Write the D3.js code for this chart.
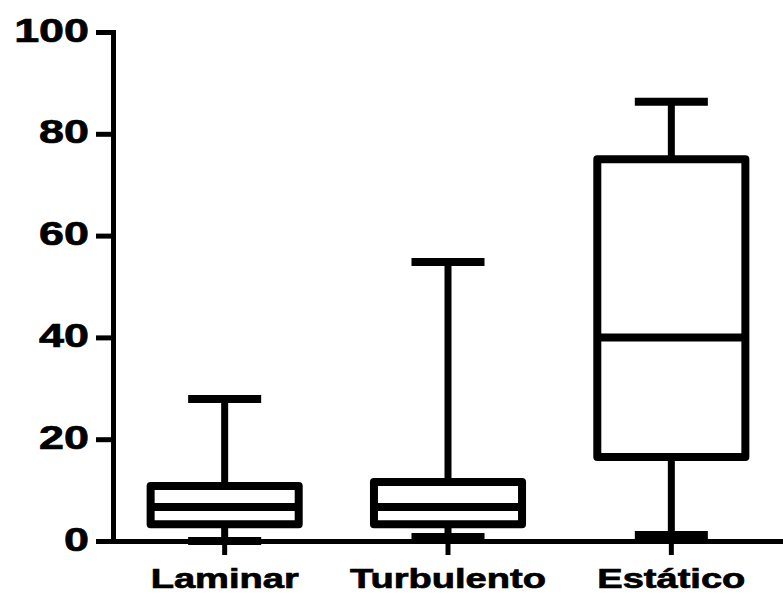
<!DOCTYPE html>
<html>
<head>
<meta charset="utf-8">
<script src="https://cdn.jsdelivr.net/npm/d3@7"></script>
<style>
  body { margin: 0; background: #fff; }
  svg text { font-family: "Liberation Sans", Arial, sans-serif; font-weight: bold; fill: #000; stroke: #000; stroke-width: 0.7px; }
</style>
</head>
<body>
<div id="chart"></div>
<script>
// data
let categories = ["Laminar", "Turbulento", "Estático"];
let mins    = [0, 0.8, 1.2];
let q1s     = [3.3, 3.3, 16.5];
let medians = [6.7, 6.7, 40.0];
let q3s     = [10.8, 11.6, 75.0];
let maxs    = [27.9, 54.8, 86.3];
let yTicks  = [0, 20, 40, 60, 80, 100];

let width = 783;
let height = 596;
let stretch = 1.36; // labels are drawn wide in the original

let svg = d3.select("#chart")
  .append("svg")
  .attr("width", width)
  .attr("height", height);

let x = d3.scaleBand()
  .domain(categories)
  .range([113, 783])
  .padding(0);

let y = d3.scaleLinear()
  .domain([0, 100])
  .range([541, 32]);

let boxes = categories.map((c, i) => ({
  cat: c, min: mins[i], q1: q1s[i], med: medians[i], q3: q3s[i], max: maxs[i]
}));

let boxW = x.bandwidth() * 0.663;
let capW = x.bandwidth() * 0.327;

let g = svg.append("g").attr("class", "boxes");

let b = g.selectAll("g")
  .data(boxes)
  .enter()
  .append("g")
  .attr("transform", d => `translate(${x(d.cat) + x.bandwidth() / 2},0)`);

// whisker stems
b.append("line")
  .attr("x1", 0).attr("x2", 0)
  .attr("y1", d => y(d.min)).attr("y2", d => y(d.max))
  .attr("stroke", "#000").attr("stroke-width", 7);

// caps
["min", "max"].forEach(k => {
  b.append("line")
    .attr("x1", -capW / 2).attr("x2", capW / 2)
    .attr("y1", d => y(d[k])).attr("y2", d => y(d[k]))
    .attr("stroke", "#000").attr("stroke-width", 8);
});

// box
b.append("rect")
  .attr("x", -boxW / 2)
  .attr("width", boxW)
  .attr("y", d => y(d.q3))
  .attr("height", d => y(d.q1) - y(d.q3))
  .attr("fill", "#fff")
  .attr("stroke", "#000")
  .attr("stroke-width", 8)
  .attr("stroke-linejoin", "round");

// median
b.append("line")
  .attr("x1", -boxW / 2).attr("x2", boxW / 2)
  .attr("y1", d => y(d.med)).attr("y2", d => y(d.med))
  .attr("stroke", "#000").attr("stroke-width", 8);

// y axis
let yAxis = svg.append("g")
  .attr("transform", "translate(113,0)")
  .call(d3.axisLeft(y).tickValues(yTicks).tickSize(17).tickSizeOuter(0));

yAxis.select(".domain")
  .attr("stroke", "#000").attr("stroke-width", 5).attr("stroke-linecap", "square");
yAxis.selectAll(".tick line")
  .attr("stroke", "#000").attr("stroke-width", 5);
yAxis.selectAll(".tick text")
  .attr("x", null).attr("dy", null)
  .attr("y", 9)
  .attr("text-anchor", "end")
  .attr("transform", `translate(-24,0) scale(${stretch},1)`)
  .style("font-size", "33px");

// x axis
let xAxis = svg.append("g")
  .attr("transform", "translate(0,541)")
  .call(d3.axisBottom(x).tickSize(14).tickSizeOuter(0));

xAxis.select(".domain")
  .attr("stroke", "#000").attr("stroke-width", 5);
xAxis.selectAll(".tick line")
  .attr("stroke", "#000").attr("stroke-width", 5);
xAxis.selectAll(".tick text")
  .attr("y", null).attr("dy", null)
  .attr("text-anchor", "middle")
  .attr("transform", `translate(0,47) scale(${stretch},1)`)
  .style("font-size", "28px");
</script>
</body>
</html>
